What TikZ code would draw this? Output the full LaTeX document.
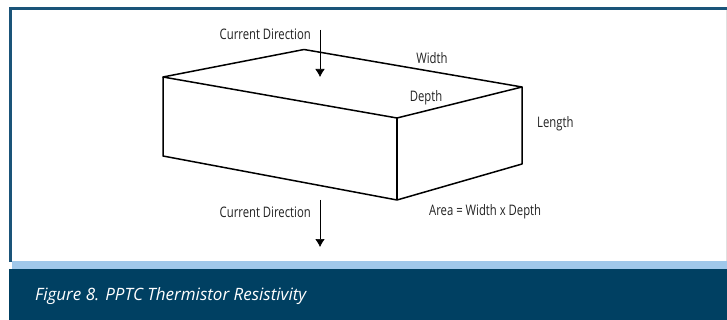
\documentclass[tikz,border=0pt]{standalone}
\usepackage{fontspec}
\setmainfont{Open Sans}
\newfontfamily\capfont{Open Sans}
\usetikzlibrary{arrows.meta}
\definecolor{navy}{HTML}{004062}
\definecolor{framec}{HTML}{1A5479}
\definecolor{lightb}{HTML}{A0C8EA}
\definecolor{inkc}{HTML}{222222}
\tikzset{
  edgea/.style={draw=black,line width=1.5pt,line join=round},
  flow/.style={draw=black,line width=.6pt,-{Latex[length=8pt,width=9.5pt]}},
  lab/.style={text=inkc,font=\fontsize{14.5}{16}\selectfont,inner sep=0pt,xscale=.78,transform shape},
  caption/.style={text=white,font=\capfont\itshape\fontsize{17}{19}\selectfont,inner sep=0pt,anchor=west,transform shape}
}
\begin{document}
\begin{tikzpicture}[x=1pt,y=-1pt]
\useasboundingbox (0,0) rectangle (727,320);
\fill[white] (0,0) rectangle (727,320);
% frame
\fill[framec] (9,7) rectangle (727,10.5);
\fill[framec] (9,7) rectangle (12,262);
\draw[black!12,line width=.6pt] (726.5,10) -- (726.5,262);
\fill[lightb] (12,261) rectangle (727,269);
\fill[navy] (9,269) rectangle (727,320);
% block
\coordinate (a) at (163,77);
\coordinate (b) at (304,49.5);
\coordinate (c) at (522,87);
\coordinate (d) at (397,118);
\coordinate (e) at (163,156);
\coordinate (f) at (397,200);
\coordinate (g) at (522,164);
\draw[edgea] (a) -- (b) -- (c) -- (d) -- cycle;
\draw[edgea] (a) -- (e) -- (f) -- (g) -- (c);
\draw[edgea] (d) -- (f);
% arrows
\coordinate (t1) at (320,30);
\coordinate (t2) at (320,77);
\coordinate (u1) at (320,200);
\coordinate (u2) at (320,247);
\draw[flow] (t1) -- (t2);
\draw[flow] (u1) -- (u2);
% labels
\node[lab,anchor=east] (cd1) at (311,34) {Current Direction};
\node[lab,anchor=east] (cd2) at (311,212) {Current Direction};
\node[lab] (w) at (432,58) {Width};
\node[lab] (dp) at (426,98) {Depth};
\node[lab,anchor=west] (l) at (537,124) {Length};
\node[lab,anchor=west] (ar) at (429,212) {Area = Width x Depth};
\node[caption] (cap) at (35,296) {Figure 8. PPTC Thermistor Resistivity};
\end{tikzpicture}
\end{document}
